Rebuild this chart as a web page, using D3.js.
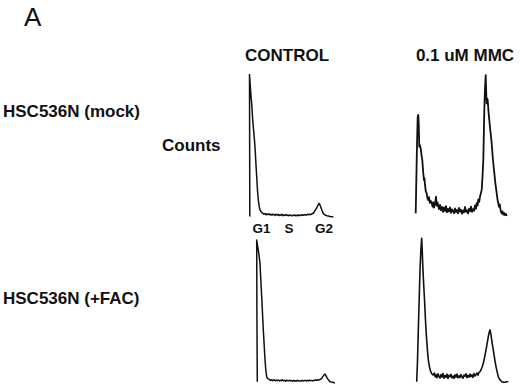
<!DOCTYPE html>
<html lang="en">
<head>
    <meta charset="utf-8">
    <title>Cell cycle histograms</title>
    <script type="text/javascript" src="https://cdn.jsdelivr.net/npm/d3@7/dist/d3.min.js"></script>
    <style>
        body { margin: 0; background: #fff; }
        text { font-family: "Liberation Sans", Arial, sans-serif; fill: #111; }
        .label { font-weight: bold; font-size: 17px; }
        .trace { fill: none; stroke: #111; stroke-linejoin: round; }
    </style>
</head>
<body>
    <div id="chart"></div>

    <script type="text/javascript">
        // DNA content channel / counts for each histogram
        const mockCtrlCh = [19.8,19.5,20.2,21,21.7,22.5,23.3,24.2,25,25.8,26.7,27.5,28.3,29.2,30,31,32,33,34,35,36,37,38,39,40,41,42,43,44,45,46,47,48,49,50,51,52,53,54,55,56,57,58,59,60,61,62,63,64,65,66,67,68,69,70,71,72,73,74,75,76,77,78,79,80,81,82,83.3,84.5,85.6,86.7,87.8,89,89.8,90.7,92,93.3,95,96.7,98.3,100,101.7,103.3];
        const mockCtrlCounts = [1,99,92,84,79,70,63,56,49,39,28.5,19,12.4,8,5.5,4.5,3.6,3.2,2.6,3.1,2.2,2.8,2.4,2.9,2.1,2.6,2.0,2.7,2.3,1.8,2.5,2.0,2.6,1.7,2.2,1.9,2.5,1.6,2.1,1.8,2.4,1.7,2.0,1.5,2.2,1.8,1.4,2.0,1.7,2.1,1.5,1.9,1.6,2.2,1.7,1.9,2.3,1.8,2.1,2.4,1.9,2.3,2.6,2.2,2.7,2.4,2.9,3.3,4.5,5.8,6.9,8.6,10.1,9.2,7.8,5.2,3.2,2.1,1.6,1.4,1.1,0.9,0.9];

        const mockMmcCh = [17.7,18.2,18.7,19.2,19.7,20.3,20.7,21.3,21.8,22.7,23.5,24.3,25.2,26,26.5,27,27.8,28.7,29.5,30.3,31,31.8,32.7,33.7,34.5,35.3,36,37,38,38.7,39.5,40.3,41,42,43,44,45,46,47,48,49,50,51,52,53,54,55,56,57,58,59,60,61,62,63,64,65,66,67,68,69,70,71,72,73,74,75,76,77,78,78.7,79.5,80.3,81.2,82,82.8,83.7,84.5,85.3,85.8,86.3,87,87.7,88.2,88.7,89.2,89.7,90.5,91.3,92.5,93.7,94.8,96,97.3,98.7,99.8,101,101.8,102.7,103.7,104.5,105.3,106,107,107.8,108.7];
        const mockMmcCounts = [1.8,20,38.6,55,68.5,69.7,64,47.8,49,46.7,42,38.6,30,24.8,26,21.4,17,15.6,12,11,13,9,10.5,8.8,6.5,9.6,5.8,8.2,13.3,7.1,9.4,6.9,4.8,7.6,3.9,6.3,2.8,5.9,3.4,6.8,2.6,4.9,3.1,6.0,2.2,4.6,3.5,1.9,5.2,2.7,4.1,1.8,5.6,3.0,4.4,1.6,3.8,2.5,6.2,2.9,4.0,1.7,5.1,3.3,6.4,2.8,4.7,3.5,7.3,5.0,8.8,7.2,11.5,9.8,13.3,15.5,18,27,38.6,55,73,88,97.2,85,77.7,81,80,72,66.2,58,50,40,31.7,23,15.6,10,6.4,8,3.5,1.8,3.2,0.9,2.1,0.7,1.5,0];

        const facCtrlCh = [20.3,19.9,19.7,20.5,21.3,22.2,23,23.8,24.7,25.5,26.3,27.2,28,28.8,29.7,30.5,31.4,32.3,33.5,34.5,35.5,36.5,37.5,38.5,39.5,40.5,41.5,42.5,43.5,44.5,45.5,46.5,47.5,48.5,49.5,50.5,51.5,52.5,53.5,54.5,55.5,56.5,57.5,58.5,59.5,60.5,61.5,62.5,63.5,64.5,65.5,66.5,67.5,68.5,69.5,70.5,71.5,72.5,73.5,74.5,75.5,76.5,77.5,78.5,79.5,80.5,81.5,82.5,83.5,84.7,85.8,87,88,89,90.3,91.6,93,95.5,98];
        const facCtrlCounts = [0.9,50,98.6,95,91.7,87,82.5,71,59.5,48,36.6,26,15.9,9,4.3,3.2,2.8,2.5,1.8,2.2,1.6,2.3,1.9,1.5,2.1,1.7,2.0,1.4,1.9,1.6,2.2,1.5,1.8,1.3,2.0,1.6,1.4,1.9,1.5,1.7,1.2,1.8,1.4,1.6,1.3,1.9,1.5,1.2,1.7,1.4,1.8,1.3,1.6,1.9,1.4,1.7,1.5,2.0,1.6,1.8,1.4,1.9,1.7,2.1,1.8,2.2,1.9,2.4,2.6,3.2,4.4,5.6,6.2,4.9,3.2,2.0,0.9,0.5,0];

        const facMmcCh = [14.7,15.5,16.3,17.2,18,18.9,19.7,20.2,20.7,21.3,22,22.7,23.3,24,24.7,25.5,26.3,27.5,28.7,30,31.3,32.3,33.2,34,35,36,37,38,39,40,41,42,43,44,45,46,47,48,49,50,51,52,53,54,55,56,57,58,59,60,61,62,63,64,65,66,67,68,69,70,71,72,73,74,75,76,77,78,79,80.2,81.3,82.7,84,85.2,86.3,87.2,88,88.8,89.7,90.5,91.3,92.7,94,95.2,96.3,98,99.7,101.5,103,104.5,106.3];
        const facMmcCounts = [0.9,15,36.6,58,78,92,99.8,92,82.5,73,64,55,45.7,37,29.7,22,15.9,11,7.8,6.2,5.5,6.9,4.2,5.8,3.6,6.3,4.5,3.4,5.9,4.1,6.6,3.3,5.2,3.9,6.1,3.1,5.4,4.3,6.0,3.5,4.8,3.2,5.7,4.0,6.2,3.6,5.0,3.8,5.9,4.2,3.3,5.5,4.6,6.4,3.7,5.3,4.1,6.1,4.4,5.6,3.9,6.5,4.8,5.7,6.9,5.4,7.3,7.8,9.0,11.2,13.6,18,22.8,27.5,32,35,36.6,34,29.7,26,22.8,16.5,11.3,7.5,4.3,2.2,0.9,0.6,0.5,0.9,0.9];

        const rowLabels = ["HSC536N (mock)", "HSC536N (+FAC)"];
        const colLabels = ["CONTROL", "0.1 uM MMC"];
        const phaseLabels = ["G1", "S", "G2"];
        const phaseChannels = [31, 58.5, 93.5];

        const width = 520;
        const height = 387;
        const panelW = 110;   // px for 110 channels
        const panelH = 145;   // px for 100 count units

        const svg = d3.select("#chart")
            .append("svg")
            .attr("width", width)
            .attr("height", height);

        const panels = [
            {ch: mockCtrlCh, counts: mockCtrlCounts, x0: 230, base: 218, sw: 1.5},
            {ch: mockMmcCh, counts: mockMmcCounts, x0: 398, base: 216, sw: 1.8},
            {ch: facCtrlCh, counts: facCtrlCounts, x0: 237, base: 383, sw: 1.5},
            {ch: facMmcCh, counts: facMmcCounts, x0: 402, base: 383, sw: 1.6}
        ];

        panels.forEach(function(p, i) {
            const xScale = d3.scaleLinear().domain([0, 110]).range([p.x0, p.x0 + panelW]);
            const yScale = d3.scaleLinear().domain([0, 100]).range([p.base, p.base - panelH]);
            const line = d3.line()
                .x((d, j) => xScale(p.ch[j]))
                .y(d => yScale(d));

            svg.append("path")
                .datum(p.counts)
                .attr("class", "trace")
                .attr("stroke-width", p.sw)
                .attr("d", line);

            // phase labels under first panel only
            if (i === 0) {
                const phaseAxis = d3.axisBottom(xScale)
                    .tickValues(phaseChannels)
                    .tickFormat((d, k) => phaseLabels[k])
                    .tickSize(0)
                    .tickPadding(0);
                const g = svg.append("g")
                    .attr("transform", "translate(0," + 222 + ")")
                    .call(phaseAxis);
                g.select(".domain").remove();
                g.selectAll("text")
                    .attr("dy", 0)
                    .attr("y", 10.5)
                    .style("font-family", "'Liberation Sans', Arial, sans-serif")
                    .style("font-size", "13.5px")
                    .style("font-weight", "bold")
                    .style("fill", "#111");
            }
        });

        // panel letter
        svg.append("text")
            .attr("x", 24)
            .attr("y", 26)
            .style("font-size", "26px")
            .text("A");

        // column titles
        const colX = [287, 465];
        svg.selectAll(".col")
            .data(colLabels)
            .enter()
            .append("text")
                .attr("class", "label col")
                .attr("x", (d, i) => colX[i])
                .attr("y", 61)
                .attr("text-anchor", "middle")
                .text(d => d);

        // row titles
        const rowY = [117, 304];
        svg.selectAll(".row")
            .data(rowLabels)
            .enter()
            .append("text")
                .attr("class", "label row")
                .attr("x", 3)
                .attr("y", (d, i) => rowY[i])
                .text(d => d);

        svg.append("text")
            .attr("class", "label")
            .attr("x", 162)
            .attr("y", 151)
            .text("Counts");
    </script>
</body>
</html>
